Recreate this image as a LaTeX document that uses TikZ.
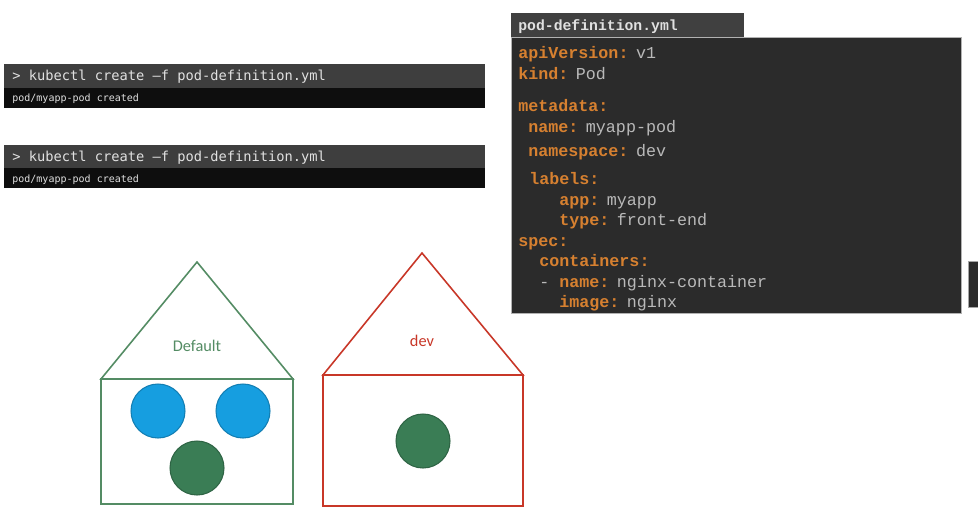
\documentclass[tikz,border=0pt]{standalone}
\usepackage{fontspec}
\setmainfont{Carlito}
\newfontfamily\termfont{DejaVu Sans Mono}
\newfontfamily\yamlfont{Liberation Mono}
\usetikzlibrary{positioning}
\definecolor{termgrey}{RGB}{62,62,62}
\definecolor{termblack}{RGB}{14,14,14}
\definecolor{termtext}{RGB}{225,225,225}
\definecolor{yamlbg}{RGB}{43,43,43}
\definecolor{yamltab}{RGB}{64,64,64}
\definecolor{yamlkey}{RGB}{214,128,48}
\definecolor{yamlval}{RGB}{185,185,185}
\definecolor{nsgreen}{RGB}{84,140,100}
\definecolor{nsred}{RGB}{200,55,40}
\definecolor{podblue}{RGB}{22,158,224}
\definecolor{podgreen}{RGB}{58,125,85}
\newcommand{\ykey}[1]{{\bfseries\color{yamlkey}#1}}
\newcommand{\ykv}[2]{\ykey{#1:}\hspace{0.45em}#2}

\begin{document}
\begin{tikzpicture}[x=0.02cm, y=-0.02cm,
    cmd/.style={anchor=base west, inner sep=0, text=termtext, font=\termfont\fontsize{7.8}{9}\selectfont},
    cmdout/.style={anchor=base west, inner sep=0, text=termtext, font=\termfont\fontsize{5.7}{7}\selectfont},
    yline/.style={anchor=base west, inner sep=0, text=yamlval, font=\yamlfont\fontsize{9.5}{11}\selectfont},
    pod/.style={circle, minimum size=1.08cm, inner sep=0, line width=0.6pt},
    house/.style={line width=0.9pt}]
      \useasboundingbox[fill=white] (0,0) rectangle (978,511);
      % terminals
      \fill[termgrey] (4,64) rectangle (485,88);
      \fill[termblack] (4,88) rectangle (485,108);
      \node[cmd] (cmd1) at (12,80) {> kubectl create –f pod-definition.yml};
      \node[cmdout] (out1) at (12,101) {pod/myapp-pod created};
      \fill[termgrey] (4,145) rectangle (485,168);
      \fill[termblack] (4,168) rectangle (485,188);
      \node[cmd] (cmd2) at (12,161) {> kubectl create –f pod-definition.yml};
      \node[cmdout] (out2) at (12,182) {pod/myapp-pod created};
      % yaml file
      \fill[yamltab] (511,13) rectangle (744,37);
      \draw[fill=yamlbg, draw=gray!60] (511,37) rectangle (961,313);
      \node[yline, font=\yamlfont\bfseries\fontsize{8.4}{10}\selectfont, text=termtext] (ytab) at (518,30) {pod-definition.yml};
      \node[yline] (y1) at (518,58) {\ykv{apiVersion}{v1}};
      \node[yline] (y2) at (518,79) {\ykv{kind}{Pod}};
      \node[yline] (y3) at (518,111) {\ykey{metadata:}};
      \node[yline] (y4) at (528,132) {\ykv{name}{myapp-pod}};
      \node[yline] (y5) at (528,156) {\ykv{namespace}{dev}};
      \node[yline] (y6) at (529,184) {\ykey{labels:}};
      \node[yline] (y7) at (559,205) {\ykv{app}{myapp}};
      \node[yline] (y8) at (559,225) {\ykv{type}{front-end}};
      \node[yline] (y9) at (518,246) {\ykey{spec:}};
      \node[yline] (y10) at (539,266) {\ykey{containers:}};
      \node[yline] (y11) at (539,287) {- \ykv{name}{nginx-container}};
      \node[yline] (y12) at (559,307) {\ykv{image}{nginx}};
      \draw[fill=yamlbg, draw=gray!70] (968,261) rectangle (980,307);
      % namespace default
      \draw[house, nsgreen] (101,379) -- (197,262) -- (293,379) -- cycle;
      \draw[house, nsgreen] (101,379) rectangle (293,504);
      \node[text=nsgreen, font=\fontsize{9.3}{11}\selectfont] (lbldef) at (197,346) {Default};
      \node[pod, fill=podblue, draw=podblue!80!black] (pod1) at (158,411) {};
      \node[pod, fill=podblue, draw=podblue!80!black] (pod2) at (243,411) {};
      \node[pod, fill=podgreen, draw=podgreen!80!black] (pod3) at (197,468) {};
      % namespace dev
      \draw[house, nsred] (323,375) -- (422,253) -- (523,375) -- cycle;
      \draw[house, nsred] (323,375) rectangle (523,506);
      \node[text=nsred, font=\fontsize{9.3}{11}\selectfont] (lbldev) at (422,341) {dev};
      \node[pod, fill=podgreen, draw=podgreen!80!black] (pod4) at (423,441) {};
\end{tikzpicture}
\end{document}
